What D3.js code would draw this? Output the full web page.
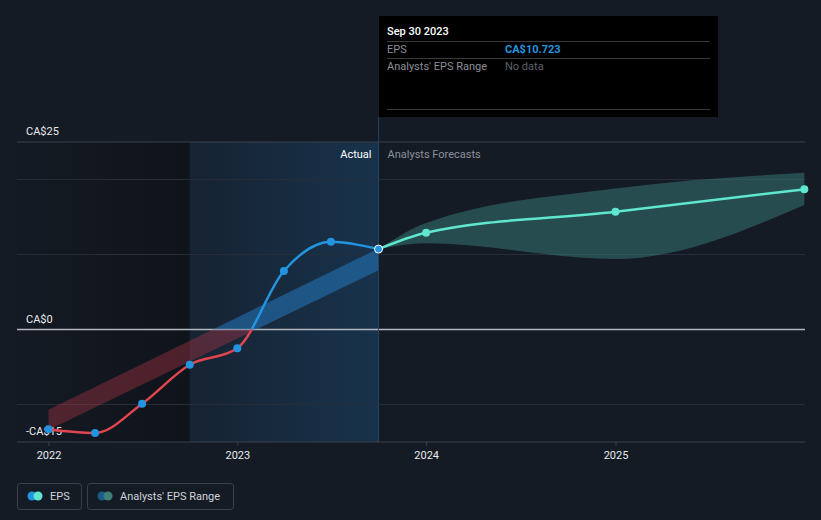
<!DOCTYPE html>
<html><head><meta charset="utf-8">
<script src="https://cdn.jsdelivr.net/npm/d3@7"></script>
<style>
html,body{margin:0;padding:0;background:#151b25;}
svg{display:block;font-family:Roboto,"Open Sans",sans-serif;}
</style></head>
<body>
<svg id="c" width="821" height="520"></svg>
<script>
// ---- data ----
const epsDates = ["2021-12-31","2022-03-31","2022-06-30","2022-09-30","2022-12-31","2023-03-31","2023-06-30","2023-09-30"];
const epsValues = [-13.3,-13.8,-9.9,-4.7,-2.5,7.8,11.7,10.723];
const forecastDates = ["2023-09-30","2023-12-31","2024-12-31","2025-12-31"];
const forecastValues = [10.723,12.9,15.7,18.7];
const forecastLow = [10.723,11.5,9.4,16.6];
const forecastHigh = [10.723,14.2,18.8,20.9];
const pastRangeDates = ["2021-12-31","2023-09-30"];
const pastRangeLow = [-13.4,7.9];
const pastRangeHigh = [-10.7,10.8];
const yTicks = [25,20,10,0,-10,-15];
const yLabels = [{v:25,t:"CA$25"},{v:0,t:"CA$0"},{v:-15,t:"-CA$15"}];
const xTickYears = ["2022","2023","2024","2025"];
const tooltip = {date:"Sep 30 2023", eps:"CA$10.723", range:"No data"};

const P = d3.timeParse("%Y-%m-%d");
const svg = d3.select("#c");
const L = 17, R = 805, T = 142, B = 442;
const x = d3.scaleTime().domain([P("2022-01-01"),P("2025-01-01")]).range([49,616]);
const y = d3.scaleLinear().domain([-15,25]).range([B,T]);
const nowX = x(P("2023-09-30"));
const highlightStart = x(P("2022-09-30"));

const defs = svg.append("defs");
const g1 = defs.append("linearGradient").attr("id","darkGrad");
g1.append("stop").attr("offset","0").attr("stop-color","#000").attr("stop-opacity",0.05);
g1.append("stop").attr("offset","1").attr("stop-color","#000").attr("stop-opacity",0.28);
const g2 = defs.append("linearGradient").attr("id","blueGrad");
g2.append("stop").attr("offset","0").attr("stop-color","#1f6aa8").attr("stop-opacity",0.1);
g2.append("stop").attr("offset","1").attr("stop-color","#1f6aa8").attr("stop-opacity",0.3);

svg.append("rect").attr("x",L).attr("y",T).attr("width",highlightStart-L).attr("height",B-T).attr("fill","url(#darkGrad)");
svg.append("rect").attr("x",highlightStart).attr("y",T).attr("width",nowX-highlightStart).attr("height",B-T).attr("fill","url(#blueGrad)");

// grid
svg.append("g").selectAll("line").data(yTicks.filter(v=>v!==0)).join("line")
  .attr("x1",L).attr("x2",R).attr("y1",d=>y(d)).attr("y2",d=>y(d))
  .attr("stroke",d=>(d===25||d===-15)?"#3a404a":"#262d38").attr("stroke-width",1);
svg.append("line").attr("x1",L).attr("x2",R).attr("y1",y(0)).attr("y2",y(0)).attr("stroke","#b4b8be").attr("stroke-width",1.5);

// y labels
svg.append("g").selectAll("text").data(yLabels).join("text")
  .attr("x",26).attr("y",d=>y(d.v)-7).attr("fill","#e8eaed").attr("font-size",11).text(d=>d.t);

// x axis ticks
svg.append("g").selectAll("line").data(xTickYears).join("line")
  .attr("x1",d=>x(P(d+"-01-01"))).attr("x2",d=>x(P(d+"-01-01"))).attr("y1",B).attr("y2",B+4).attr("stroke","#3a404a");
svg.append("g").selectAll("text").data(xTickYears).join("text")
  .attr("x",d=>x(P(d+"-01-01"))).attr("y",459).attr("text-anchor","middle").attr("fill","#e8eaed").attr("font-size",11).text(d=>d);

// clips for positive/negative
defs.append("clipPath").attr("id","pos").append("rect").attr("x",0).attr("y",0).attr("width",821).attr("height",y(0));
defs.append("clipPath").attr("id","neg").append("rect").attr("x",0).attr("y",y(0)).attr("width",821).attr("height",520-y(0));

// past range band
const pastBand = pastRangeDates.map((d,i)=>({d:P(d),lo:pastRangeLow[i],hi:pastRangeHigh[i]}));
const bandArea = d3.area().x(d=>x(d.d)).y0(d=>y(d.lo)).y1(d=>y(d.hi));
svg.append("path").datum(pastBand).attr("d",bandArea).attr("fill","#2578bd").attr("fill-opacity",0.55).attr("clip-path","url(#pos)");
svg.append("path").datum(pastBand).attr("d",bandArea).attr("fill","#c4384a").attr("fill-opacity",0.35).attr("clip-path","url(#neg)");

// forecast band
const fc = forecastDates.map((d,i)=>({d:P(d),v:forecastValues[i],lo:forecastLow[i],hi:forecastHigh[i]}));
svg.append("path").datum(fc).attr("d",d3.area().curve(d3.curveMonotoneX).x(d=>x(d.d)).y0(d=>y(d.lo)).y1(d=>y(d.hi)))
  .attr("fill","#3e8a85").attr("fill-opacity",0.45);

// vertical now line
svg.append("line").attr("x1",nowX).attr("x2",nowX).attr("y1",117).attr("y2",B).attr("stroke","#1e4466").attr("stroke-width",1);

// labels Actual / Forecasts
svg.append("text").attr("x",nowX-7).attr("y",158).attr("text-anchor","end").attr("fill","#ffffff").attr("font-size",11).text("Actual");
svg.append("text").attr("x",nowX+9).attr("y",158).attr("fill","#8b9099").attr("font-size",11).text("Analysts Forecasts");

// eps line
const eps = epsDates.map((d,i)=>({d:P(d),v:epsValues[i]}));
const line = d3.line().curve(d3.curveMonotoneX).x(d=>x(d.d)).y(d=>y(d.v));
svg.append("path").datum(eps).attr("d",line).attr("fill","none").attr("stroke","#2394df").attr("stroke-width",2.5).attr("clip-path","url(#pos)");
svg.append("path").datum(eps).attr("d",line).attr("fill","none").attr("stroke","#e0464e").attr("stroke-width",2.5).attr("clip-path","url(#neg)");
svg.append("path").datum(fc).attr("d",line).attr("fill","none").attr("stroke","#5fe6cf").attr("stroke-width",2.5);

svg.append("g").selectAll("circle").data(eps.slice(0,-1)).join("circle")
  .attr("cx",d=>x(d.d)).attr("cy",d=>y(d.v)).attr("r",4).attr("fill","#2394df");
svg.append("g").selectAll("circle").data(fc.slice(1)).join("circle")
  .attr("cx",d=>x(d.d)).attr("cy",d=>y(d.v)).attr("r",4).attr("fill","#5fe6cf");
const last = eps[eps.length-1];
svg.append("circle").attr("cx",x(last.d)).attr("cy",y(last.v)).attr("r",4).attr("fill","#2394df").attr("stroke","#ffffff").attr("stroke-width",1);

// tooltip
const tt = svg.append("g");
tt.append("rect").attr("x",379).attr("y",16).attr("width",339).attr("height",101).attr("fill","#000");
tt.append("text").attr("x",387).attr("y",35).attr("fill","#ffffff").attr("font-size",11).attr("font-weight",500).text(tooltip.date);
[41,58,109].forEach(yy=>tt.append("line").attr("x1",387).attr("x2",710).attr("y1",yy+0.5).attr("y2",yy+0.5).attr("stroke","#3a3a3a"));
tt.append("text").attr("x",387).attr("y",53).attr("fill","#8b8f96").attr("font-size",11).text("EPS");
tt.append("text").attr("x",505).attr("y",53).attr("fill","#2394df").attr("font-size",11).attr("font-weight",700).text(tooltip.eps);
tt.append("text").attr("x",387).attr("y",70).attr("fill","#8b8f96").attr("font-size",11).text("Analysts' EPS Range");
tt.append("text").attr("x",505).attr("y",70).attr("fill","#5e6168").attr("font-size",11).text(tooltip.range);

// legend
const lg = svg.append("g");
const items = [{x:17,w:64,t:"EPS",c1:"#2394df",c2:"#5fe6cf"},{x:87,w:146,t:"Analysts' EPS Range",c1:"#1d5a88",c2:"#3d8079"}];
items.forEach(it=>{
  lg.append("rect").attr("x",it.x+0.5).attr("y",483.5).attr("width",it.w).attr("height",26).attr("rx",3).attr("fill","none").attr("stroke","#3b404a");
  lg.append("circle").attr("cx",it.x+15).attr("cy",496).attr("r",4.5).attr("fill",it.c1);
  lg.append("circle").attr("cx",it.x+21).attr("cy",496).attr("r",4.5).attr("fill",it.c2);
  lg.append("text").attr("x",it.x+33).attr("y",500).attr("fill","#d0d3d8").attr("font-size",11).text(it.t);
});
</script>
</body></html>
